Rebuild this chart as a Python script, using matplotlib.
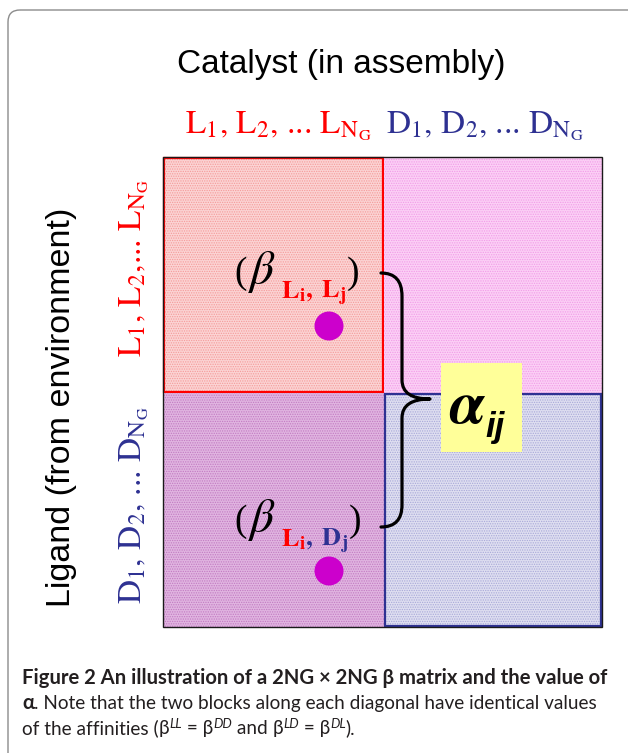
import matplotlib
matplotlib.use("Agg")
import matplotlib.pyplot as plt
from matplotlib.patches import Rectangle, Circle, FancyBboxPatch, PathPatch
from matplotlib.path import Path

plt.rcParams['mathtext.fontset'] = 'stix'

# --- contenido del esquema (matriz beta 2NG x 2NG) ---
row_groups = ['L', 'D']            # ligando (del entorno)
col_groups = ['L', 'D']            # catalizador (en el ensamblaje)
col_labels = {
    'L': r'$\text{L}_1\text{, L}_2\text{, ... L}_{\text{N}_{\text{G}}}$',
    'D': r'$\text{D}_1\text{, D}_2\text{, ... D}_{\text{N}_{\text{G}}}$',
}
row_labels = {
    'L': r'$\text{L}_1\text{, L}_2\text{,... L}_{\text{N}_{\text{G}}}$',
    'D': r'$\text{D}_1\text{, D}_2\text{, ... D}_{\text{N}_{\text{G}}}$',
}
top_title = 'Catalyst (in assembly)'
side_title = 'Ligand (from environment)'
# celdas de ejemplo marcadas con punto: (fila, columna) -> subindices
example_cells = [('L', 'L'), ('L', 'D')]
caption_bold = 'Figure 2 An illustration of a 2NG \u00d7 2NG \u03b2 matrix and the value of'
caption_line2 = '. Note that the two blocks along each diagonal have identical values'
caption_pairs = [('LL', 'DD'), ('LD', 'DL')]

RED = '#ff0000'
NAVY = '#2e3192'
group_color = {'L': RED, 'D': NAVY}
block_fill = {'LL': '#fbd3d3', 'LD': '#fbcff5', 'DL': '#e0b4e0', 'DD': '#dedef0'}
block_dots = {'LL': '#f59a9a', 'LD': '#f29be8', 'DL': '#c27ac2', 'DD': '#a8a8d8'}
block_edge = {'LL': RED, 'DD': NAVY}

fig = plt.figure(figsize=(6.28, 7.53), dpi=100, facecolor='white')
ax = fig.add_axes([0, 0, 1, 1])
ax.set_xlim(0, 628)
ax.set_ylim(753, 0)
ax.axis('off')
renderer = fig.canvas.get_renderer()


def chain(x, y, pieces):
    """Escribe trozos de texto uno detras de otro sobre la misma linea."""
    for text, kw in pieces:
        kw = dict(kw)
        dy = kw.pop('dy', 0)
        gap = kw.pop('gap', 0)
        t = ax.text(x + gap, y + dy, text, ha='left', va='baseline', **kw)
        bb = t.get_window_extent(renderer)
        x = ax.transData.inverted().transform((bb.x1, bb.y0))[0]
    return x


# marco de la pagina
ax.add_patch(FancyBboxPatch((8, 10), 660, 770, boxstyle='round,pad=0,rounding_size=12',
                            facecolor='none', edgecolor='#8c8c8c', lw=1.0))

# matriz
xs = [163, 384, 602]
ys = [157, 393, 627]
plt.rcParams['hatch.linewidth'] = 0.6
for r, rg in enumerate(row_groups):
    for c, cg in enumerate(col_groups):
        key = rg + cg
        x0, x1 = xs[c], xs[c + 1]
        y0, y1 = ys[r], ys[r + 1]
        ax.add_patch(Rectangle((x0, y0), x1 - x0, y1 - y0, facecolor=block_fill[key],
                               edgecolor=block_dots[key], hatch='.......', lw=0))
        if key in block_edge:
            ax.add_patch(Rectangle((x0 + 1, y0 + 1), x1 - x0 - 2, y1 - y0 - 2,
                                   facecolor='none', edgecolor=block_edge[key], lw=1.6))
ax.add_patch(Rectangle((xs[0], ys[0]), xs[2] - xs[0], ys[2] - ys[0],
                       facecolor='none', edgecolor='#1a1a1a', lw=1.0))

# titulos de ejes
ax.text(341, 64, top_title, ha='center', va='center', fontsize=24,
        family='Liberation Sans')
ax.text(62, 407, side_title, ha='center', va='center', fontsize=24.5,
        family='Liberation Sans', rotation=90)

# etiquetas de grupos
col_cx = [278, 485]
for c, cg in enumerate(col_groups):
    ax.text(col_cx[c], 133, col_labels[cg], ha='center', va='baseline',
            fontsize=24, color=group_color[cg])
row_cy = [268, 505]
for r, rg in enumerate(row_groups):
    ax.text(134, row_cy[r], row_labels[rg], ha='center', va='center',
            fontsize=24, color=group_color[rg], rotation=90)

# etiquetas beta y puntos
label_base = [283, 531]
for k, (gi, gj) in enumerate(example_cells):
    yb = label_base[k]
    x = chain(234, yb, [('(', dict(fontsize=27, family='Liberation Serif')),
                        (r'$\beta$', dict(fontsize=34, gap=1))])
    x = chain(x + 5, yb + 15, [
        (r'$\mathbf{%s_i}$' % gi, dict(fontsize=19, color=group_color[gi])),
        (r'$\mathbf{,\ %s_j}$' % gj, dict(fontsize=19, color=group_color[gj])),
    ])
    chain(x, yb, [(')', dict(fontsize=27, family='Liberation Serif'))])
    ax.add_patch(Circle((329, 326 + (ys[1] - ys[0]) * k + 9 * k), 14.5,
                        facecolor='#cc00cc', edgecolor='none'))

# llave
verts = [(381, 273), (402, 273), (402, 296), (402, 380), (402, 399), (430, 399),
         (402, 399), (402, 418), (402, 505), (402, 527), (381, 527)]
codes = [Path.MOVETO, Path.CURVE3, Path.CURVE3, Path.LINETO, Path.CURVE3, Path.CURVE3,
         Path.CURVE3, Path.CURVE3, Path.LINETO, Path.CURVE3, Path.CURVE3]
ax.add_patch(PathPatch(Path(verts, codes), facecolor='none', edgecolor='black',
                       lw=2.3, capstyle='round', joinstyle='round'))

# alfa
ax.add_patch(Rectangle((441, 363), 81, 89, facecolor='#ffff99', edgecolor='none'))
x = chain(449, 423, [(r'$\boldsymbol{\alpha}$', dict(fontsize=44))])
chain(x - 1, 437, [('ij', dict(fontsize=25, fontweight='bold', style='italic',
                                family='Liberation Sans'))])

# pie de figura
cap = dict(family=['Lato', 'DejaVu Sans'], fontsize=13.7, color='#231f20')
capb = dict(cap, fontweight='bold', fontsize=14.6)
sup = dict(cap, fontsize=9.5, style='italic', dy=-6)
chain(22, 684, [(caption_bold, capb)])
chain(22, 709, [('\u03b1', capb), (caption_line2, cap)])
pieces = [('of the affinities (', cap)]
for n, (a, b) in enumerate(caption_pairs):
    pieces += [('\u03b2', cap), (a, sup), (' = \u03b2', cap), (b, sup)]
    if n == 0:
        pieces.append((' and ', cap))
pieces.append((').', cap))
chain(22, 734, pieces)

fig.savefig('out.png', dpi=100, facecolor='white')
